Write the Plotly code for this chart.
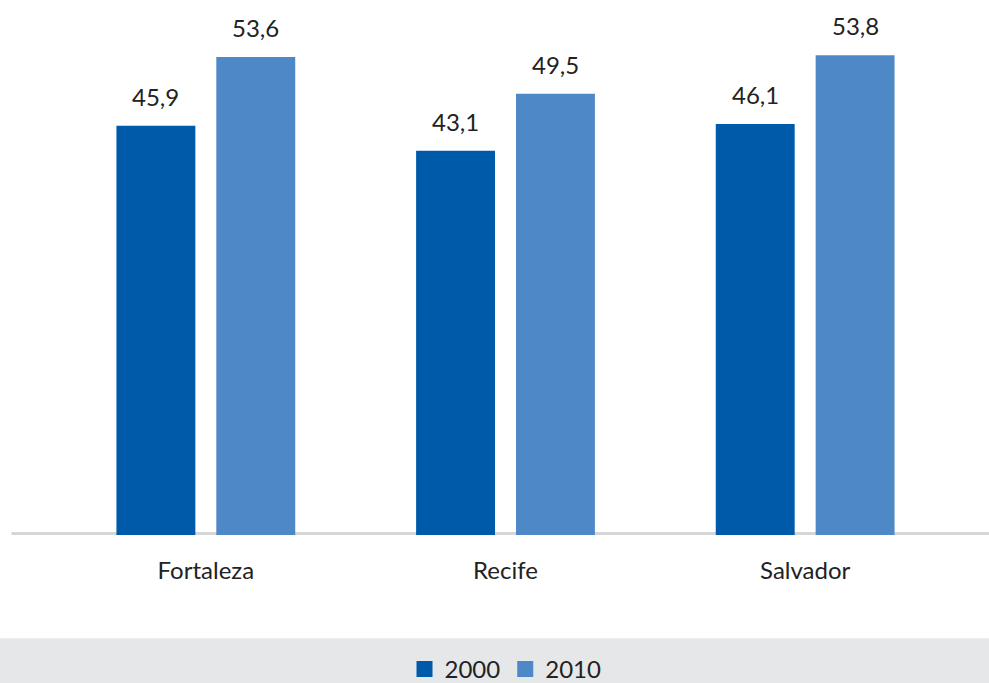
import plotly.graph_objects as go

categories = ["Fortaleza", "Recife", "Salvador"]
series_names = ["2000", "2010"]
values_2000 = [45.9, 43.1, 46.1]
values_2010 = [53.6, 49.5, 53.8]
colors = ["#005AAA", "#4E88C6"]

FONT = "Lato"
TXT = "#222222"

def fmt(v):
    return f"{v:.1f}".replace(".", ",")

fig = go.Figure()
for name, vals, col in zip(series_names, [values_2000, values_2010], colors):
    fig.add_trace(go.Bar(
        x=categories, y=vals, name=name, marker=dict(color=col, line=dict(width=0)),
        showlegend=False, hoverinfo="skip",
    ))
# legend entries with larger square swatches
for name, col in zip(series_names, colors):
    fig.add_trace(go.Scatter(
        x=[None], y=[None], mode="markers", name=name,
        marker=dict(symbol="square", size=19, color=col), showlegend=True,
    ))

W, H = 989, 683
L, R, T, B = 55.5, 33.5, 0, 148.3
plot_h = H - T - B

annotations = []
for vals, xs in zip([values_2000, values_2010], [-50, 50]):
    for c, v in zip(categories, vals):
        annotations.append(dict(
            x=c, y=v, xref="x", yref="y", text=fmt(v), showarrow=False,
            xshift=xs, yshift=13, yanchor="bottom", xanchor="center",
            font=dict(family=FONT, size=24, color=TXT),
        ))

fig.update_layout(
    width=W, height=H,
    margin=dict(l=L, r=R, t=T, b=B, pad=0, autoexpand=False),
    paper_bgcolor="white", plot_bgcolor="white",
    barmode="group", bargap=1/3, bargroupgap=0.21,
    font=dict(family=FONT, size=24, color=TXT),
    xaxis=dict(showgrid=False, zeroline=False, showline=False, ticks="",
               tickfont=dict(family=FONT, size=24, color=TXT),
               ticklabelstandoff=19, fixedrange=True, automargin=False),
    yaxis=dict(range=[0, 60], visible=False, showgrid=False, zeroline=False,
               fixedrange=True, automargin=False),
    legend=dict(orientation="h", x=0.5, xanchor="center",
                y=(plot_h - 669) / plot_h, yanchor="middle",
                bgcolor="rgba(0,0,0,0)", font=dict(family=FONT, size=24, color=TXT),
                itemsizing="trace"),
    showlegend=True,
    annotations=annotations,
    shapes=[
        dict(type="rect", xref="paper", yref="paper",
             x0=-0.2, x1=1.2, y0=(plot_h - 700) / plot_h, y1=(plot_h - 638) / plot_h,
             fillcolor="#E6E7E9", line=dict(width=0), layer="below"),
        dict(type="line", xref="paper", yref="y",
             x0=(11 - L) / (W - L - R), x1=1.2, y0=0, y1=0,
             line=dict(color="#D6D6D6", width=6), layer="below"),
    ],
)

fig.write_html("out.html", config={"displayModeBar": False},
               post_script="document.body.style.margin='0';document.body.style.overflow='hidden';")
